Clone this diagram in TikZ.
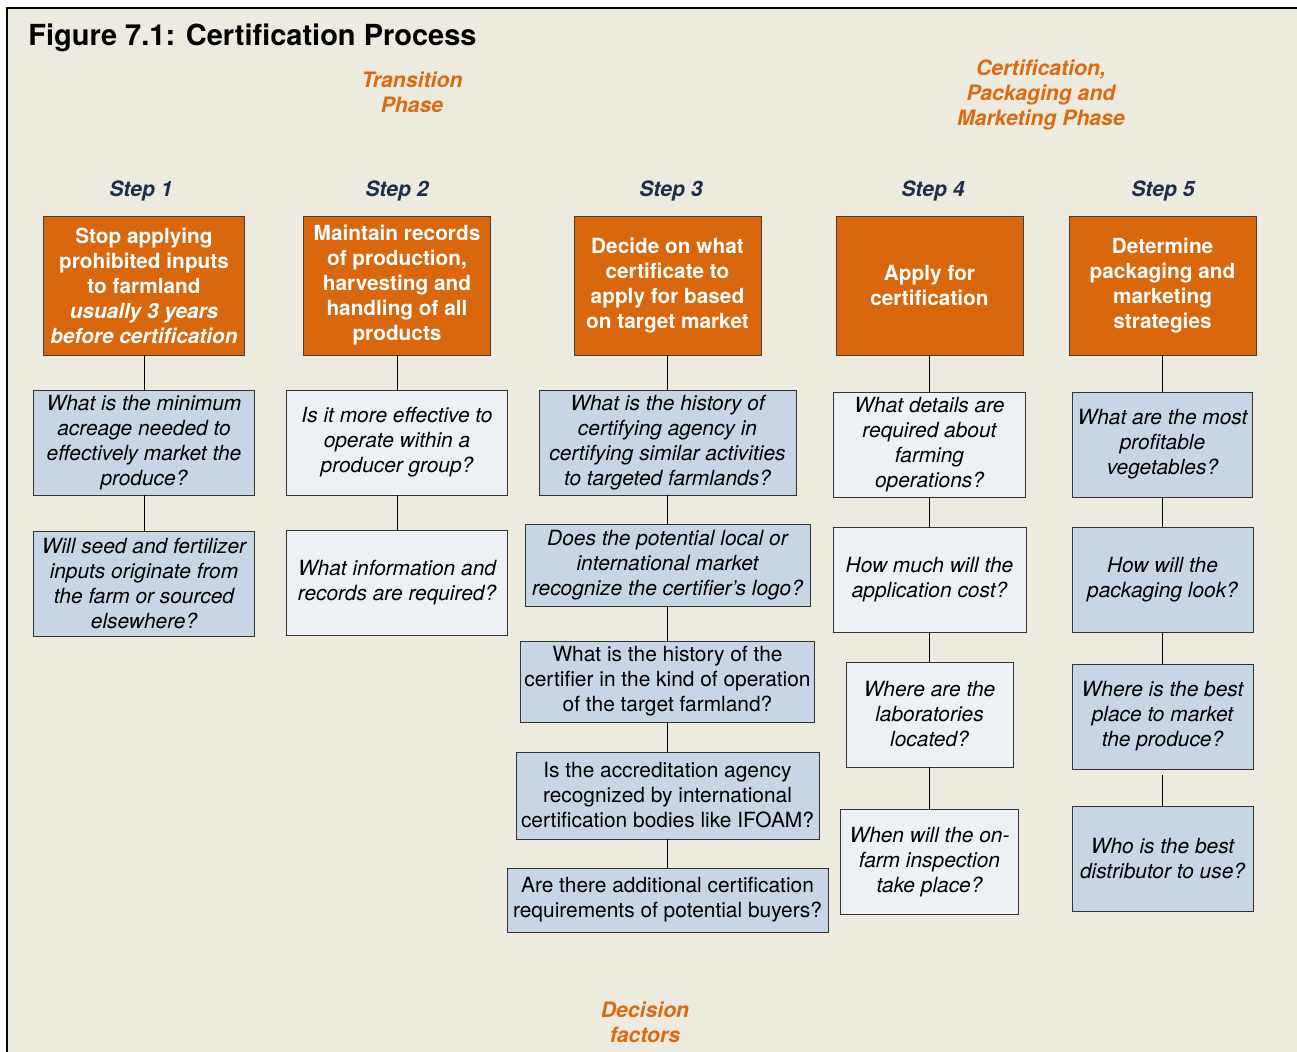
\documentclass[tikz,border=0pt]{standalone}
\usepackage{fontspec}
\setmainfont{TeX Gyre Heros}
\usepackage{tikz}
\definecolor{paper}{HTML}{EDEADF}
\definecolor{stepfill}{HTML}{D8670E}
\definecolor{phasetext}{HTML}{DB6A12}
\definecolor{steptext}{HTML}{1E2E48}
\definecolor{bluefill}{HTML}{C8D5E4}
\definecolor{lightfill}{HTML}{EDF0F5}
\tikzset{
	% boxes for the five steps and for the questions below them
	step node/.style={rectangle,draw=black!75,fill=stepfill,text=white,align=center,
		font=\fontsize{10.4}{12.5}\selectfont\bfseries,minimum height=69.5pt,inner sep=2pt},
	blue node/.style={rectangle,draw=black!80,fill=bluefill,align=center,
		font=\fontsize{10.45}{12.5}\selectfont,minimum height=52.5pt,inner sep=1pt},
	light node/.style={blue node,fill=lightfill},
	phase label/.style={text=phasetext,align=center,font=\fontsize{10.6}{12.5}\selectfont\bfseries\itshape},
	step label/.style={text=steptext,font=\fontsize{10.6}{12.5}\selectfont\bfseries\itshape}
}

\begin{document}
\begin{tikzpicture}[x=0.5pt,y=-0.5pt]
			% macro for a question box: style, name, position, width, text
			\newcommand{\question}[5]{\node(#2)[#1,minimum width=#4]at(#3){#5};}
			\useasboundingbox (0,0) rectangle (1297,1052);
			\fill[white] (0,0) rectangle (1297,1052);
			\fill[paper] (7,8) rectangle (1297,1052);
			\draw[line width=0.8pt] (7,1052) -- (7,8) -- (1297,8);

			\node(title)[anchor=base west,inner sep=0pt,font=\fontsize{14.5}{16}\selectfont\bfseries]at(28,46){Figure 7.1: Certification Process};
			\node(transition)[phase label]at(412,92){Transition\\Phase};
			\node(marketing)[phase label]at(1041,94.5){Certification,\\Packaging and\\Marketing Phase};
			\node(decision)[phase label]at(645,1022){Decision\\factors};

			% the five steps
			\node(s1)[step label]at(141,190.5){Step 1};
			\node(s2)[step label]at(397,190.5){Step 2};
			\node(s3)[step label]at(671,190.5){Step 3};
			\node(s4)[step label]at(933,190.5){Step 4};
			\node(s5)[step label]at(1163,190.5){Step 5};

			\node(1)[step node,minimum width=100.5pt]at(144,285.5){Stop applying\\prohibited inputs\\to farmland\\\textit{usually 3 years}\\\textit{before certification}};
			\node(2)[step node,minimum width=93.5pt]at(397,285.5){Maintain records\\of production,\\harvesting and\\handling of all\\products};
			\node(3)[step node,minimum width=93.5pt]at(667.5,285.5){Decide on what\\certificate to\\apply for based\\on target market};
			\node(4)[step node,minimum width=93.5pt]at(929.5,285.5){Apply for\\certification};
			\node(5)[step node,minimum width=93.5pt]at(1162.5,285.5){Determine\\packaging and\\marketing\\strategies};

			% decision factors of each step
			\question{blue node}{1-1}{144,442.5}{110.5pt}{\itshape What is the minimum\\\itshape acreage needed to\\\itshape effectively market the\\\itshape produce?}
			\question{blue node}{1-2}{144,584}{110.5pt}{\itshape Will seed and fertilizer\\\itshape inputs originate from\\\itshape the farm or sourced\\\itshape elsewhere?}

			\question{light node}{2-1}{397,442.5}{110.5pt}{\itshape Is it more effective to\\\itshape operate within a\\\itshape producer group?}
			\question{light node}{2-2}{397,582.5}{110.5pt}{\itshape What information and\\\itshape records are required?}

			\question{blue node}{3-1}{667.5,442.5}{128.5pt}{\itshape What is the history of\\\itshape certifying agency in\\\itshape certifying similar activities\\\itshape to targeted farmlands?}
			\question{blue node,minimum height=41pt}{3-2}{667.5,565}{142.5pt}{\itshape Does the potential local or\\\itshape international market\\\itshape recognize the certifier’s logo?}
			\question{blue node,minimum height=40.5pt}{3-3}{667.5,681.5}{147pt}{What is the history of the\\certifier in the kind of operation\\of the target farmland?}
			\question{blue node,minimum height=43.5pt}{3-4}{667.5,795.5}{151.5pt}{Is the accreditation agency\\recognized by international\\certification bodies like IFOAM?}
			\question{blue node,minimum height=32pt}{3-5}{667.5,900}{160.5pt}{Are there additional certification\\requirements of potential buyers?}

			\question{light node}{4-1}{929.5,444.5}{96pt}{\itshape What details are\\\itshape required about\\\itshape farming\\\itshape operations?}
			\question{light node}{4-2}{929.5,579.5}{96.5pt}{\itshape How much will the\\\itshape application cost?}
			\question{light node}{4-3}{929.5,714.5}{83.5pt}{\itshape Where are the\\\itshape laboratories\\\itshape located?}
			\question{light node}{4-4}{929.5,862}{89pt}{\itshape When will the on-\\\itshape farm inspection\\\itshape take place?}

			\question{blue node}{5-1}{1162.5,444.5}{90pt}{\itshape What are the most\\\itshape profitable\\\itshape vegetables?}
			\question{blue node}{5-2}{1162.5,579.5}{90.5pt}{\itshape How will the\\\itshape packaging look?}
			\question{blue node}{5-3}{1162.5,716.5}{90.5pt}{\itshape Where is the best\\\itshape place to market\\\itshape the produce?}
			\question{blue node}{5-4}{1162.5,859}{90.5pt}{\itshape Who is the best\\\itshape distributor to use?}

			% connectors
			\draw (1) -- (1-1) -- (1-2);
			\draw (2) -- (2-1) -- (2-2);
			\draw (3) -- (3-1) -- (3-2) -- (3-3) -- (3-4) -- (3-5);
			\draw (4) -- (4-1) -- (4-2) -- (4-3) -- (4-4);
			\draw (5) -- (5-1) -- (5-2) -- (5-3);
			\draw[shorten <=3pt] (5-3) -- (5-4);
		\end{tikzpicture}
\end{document}
